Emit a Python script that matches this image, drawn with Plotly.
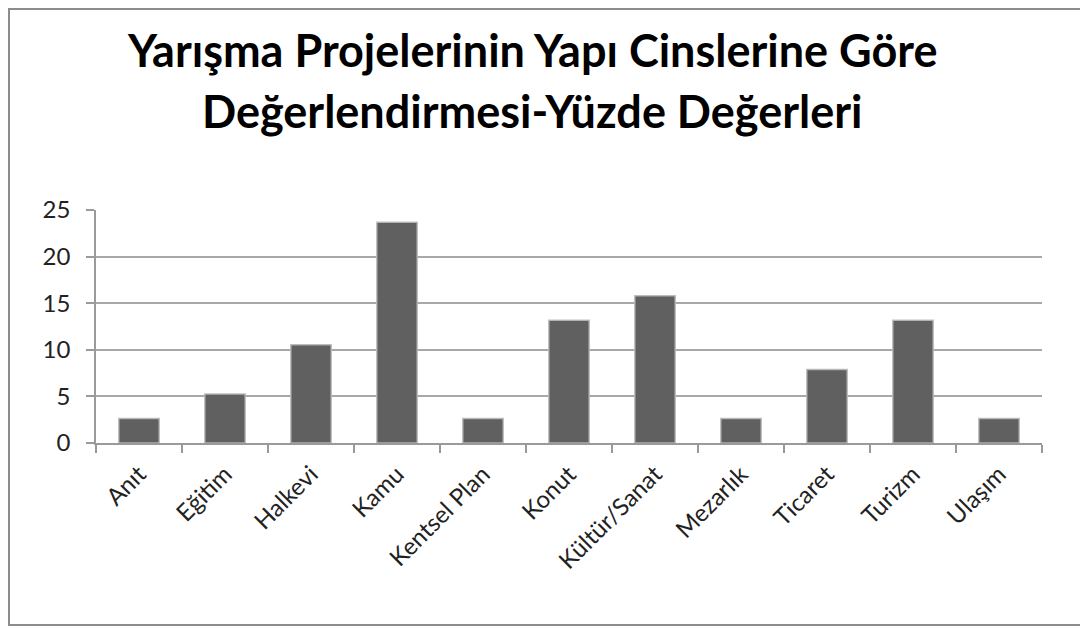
import plotly.graph_objects as go

categories = ["Anıt", "Eğitim", "Halkevi", "Kamu", "Kentsel Plan", "Konut",
              "Kültür/Sanat", "Mezarlık", "Ticaret", "Turizm", "Ulaşım"]
values = [2.63, 5.26, 10.53, 23.68, 2.63, 13.16, 15.79, 2.63, 7.89, 13.16, 2.63]
y_ticks = [0, 5, 10, 15, 20, 25]
title_line1 = "Yarışma Projelerinin Yapı Cinslerine Göre"
title_line2 = "Değerlendirmesi-Yüzde Değerleri"

# page has an 8px body margin, so the figure is drawn at (8, 8)
OFF = 8
W, H = 1080, 620
L, R, T, B = 88, 46, 202, 185
pw, ph = W - L - R, H - T - B

def px_x(x):
    return (x - OFF - L) / pw

def px_y(y):
    return (H - B - (y - OFF)) / ph

FONT = "Lato"

fig = go.Figure()
fig.add_trace(go.Bar(
    x=categories, y=values,
    marker=dict(color="#606060", line=dict(color="rgba(185,185,185,0.9)", width=1.5)),
    width=0.47,
))

fig.update_layout(
    width=W, height=H,
    margin=dict(l=L, r=R, t=T, b=B),
    paper_bgcolor="white", plot_bgcolor="white",
    showlegend=False,
    font=dict(family=FONT, color="#222222"),
    xaxis=dict(
        tickangle=-45, tickfont=dict(size=24, family=FONT, color="#222222"),
        ticks="outside", ticklen=8, tickcolor="#9a9a9a", tickwidth=1.5,
        tickson="boundaries",
        showline=True, linecolor="#9a9a9a", linewidth=1.5,
        showgrid=False, ticklabelstandoff=6,
    ),
    yaxis=dict(
        range=[0, 25], tickvals=y_ticks,
        tickfont=dict(size=24, family=FONT, color="#222222"),
        ticks="outside", ticklen=8, tickcolor="#9a9a9a", tickwidth=1.5,
        showline=True, linecolor="#9a9a9a", linewidth=1.5,
        showgrid=True, gridcolor="#a8a8a8", gridwidth=1.5,
        zeroline=False, ticklabelstandoff=11,
    ),
    shapes=[dict(type="rect", xref="paper", yref="paper",
                 x0=px_x(9), x1=px_x(1100), y0=px_y(625), y1=px_y(9),
                 line=dict(color="#8c8c8c", width=2), fillcolor="rgba(0,0,0,0)",
                 layer="below")],
    annotations=[
        dict(text="<b>" + title_line1 + "</b>", xref="paper", yref="paper",
             x=px_x(532), y=px_y(50), xanchor="center", yanchor="middle",
             showarrow=False, font=dict(size=45, family=FONT, color="black")),
        dict(text="<b>" + title_line2 + "</b>", xref="paper", yref="paper",
             x=px_x(532), y=px_y(111), xanchor="center", yanchor="middle",
             showarrow=False, font=dict(size=45, family=FONT, color="black")),
    ],
)

fig.write_html("out.html")
